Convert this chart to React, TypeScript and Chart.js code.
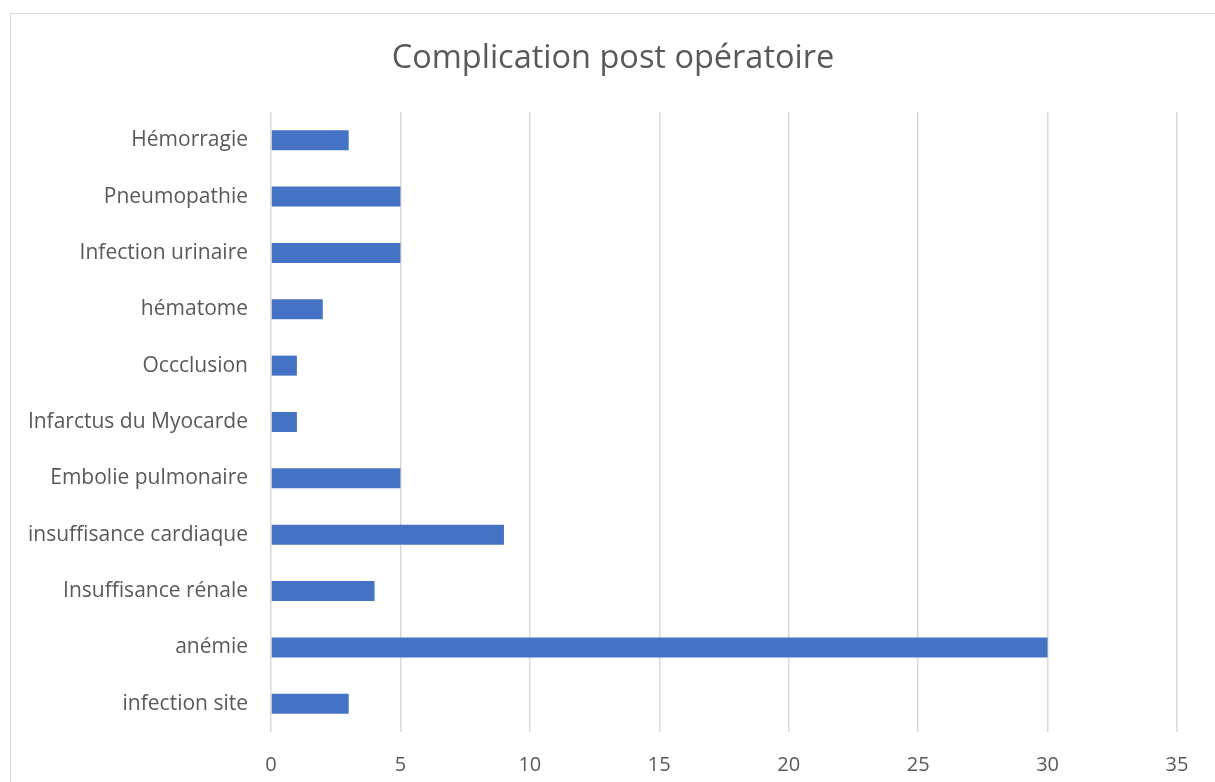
import React, { useEffect, useRef } from "react";
import { Chart, registerables } from "chart.js";

Chart.register(...registerables);

const categories: string[] = [
  "infection site",
  "anémie",
  "Insuffisance rénale",
  "insuffisance cardiaque",
  "Embolie pulmonaire",
  "Infarctus du Myocarde",
  "Occclusion",
  "hématome",
  "Infection urinaire",
  "Pneumopathie",
  "Hémorragie",
];
const counts: number[] = [3, 30, 4, 9, 5, 1, 1, 2, 5, 5, 3];
const xTicks: number[] = [0, 5, 10, 15, 20, 25, 30, 35];
const titleText = "Complication post opératoire";

const FONT = "'Open Sans', sans-serif";
const TEXT = "#595959";
const GRID = "#d9d9d9";
const BAR = "#4472C4";

const titlePlugin = {
  id: "centerTitle",
  afterDraw(chart: any) {
    const ctx = chart.ctx;
    ctx.save();
    ctx.fillStyle = TEXT;
    ctx.font = `normal 32.5px ${FONT}`;
    ctx.textAlign = "center";
    ctx.textBaseline = "middle";
    ctx.fillText(titleText, 613, 59);
    ctx.restore();
  },
};

export default function App() {
  const ref = useRef<HTMLCanvasElement | null>(null);

  useEffect(() => {
    if (!ref.current) return;
    const chart = new Chart(ref.current, {
      type: "bar",
      data: {
        labels: categories,
        datasets: [
          {
            data: counts,
            backgroundColor: BAR,
            borderWidth: 0,
            barPercentage: 0.355,
            categoryPercentage: 1,
          },
        ],
      },
      options: {
        indexAxis: "y",
        animation: false,
        responsive: false,
        maintainAspectRatio: false,
        layout: { padding: { left: 0, right: 38, top: 112, bottom: 0 } },
        plugins: {
          legend: { display: false },
          tooltip: { enabled: false },
          title: { display: false },
        },
        scales: {
          x: {
            min: 0,
            max: 35,
            afterBuildTicks: (scale: any) => {
              scale.ticks = xTicks.map((v) => ({ value: v }));
            },
            afterFit: (scale: any) => {
              scale.height = 50;
            },
            grid: { color: GRID, lineWidth: 1.5, drawTicks: false },
            border: { display: false },
            ticks: {
              color: TEXT,
              padding: 21,
              font: { family: FONT, size: 20 },
            },
          },
          y: {
            reverse: true,
            afterFit: (scale: any) => {
              scale.width = 271;
            },
            grid: { display: false, drawTicks: false },
            border: { display: false },
            ticks: {
              color: TEXT,
              padding: 23,
              font: { family: FONT, size: 21 },
            },
          },
        },
      },
      plugins: [titlePlugin],
    });
    return () => chart.destroy();
  }, []);

  return (
    <div
      style={{
        position: "fixed",
        left: 0,
        top: 0,
        width: 1215,
        height: 782,
        background: "#fff",
        overflow: "hidden",
      }}
    >
      <div
        style={{
          position: "absolute",
          left: 10,
          top: 13,
          width: 1220,
          height: 800,
          border: `1.5px solid ${GRID}`,
          boxSizing: "border-box",
        }}
      />
      <canvas
        ref={ref}
        width={1215}
        height={782}
        style={{ position: "absolute", left: 0, top: 0 }}
      />
    </div>
  );
}
